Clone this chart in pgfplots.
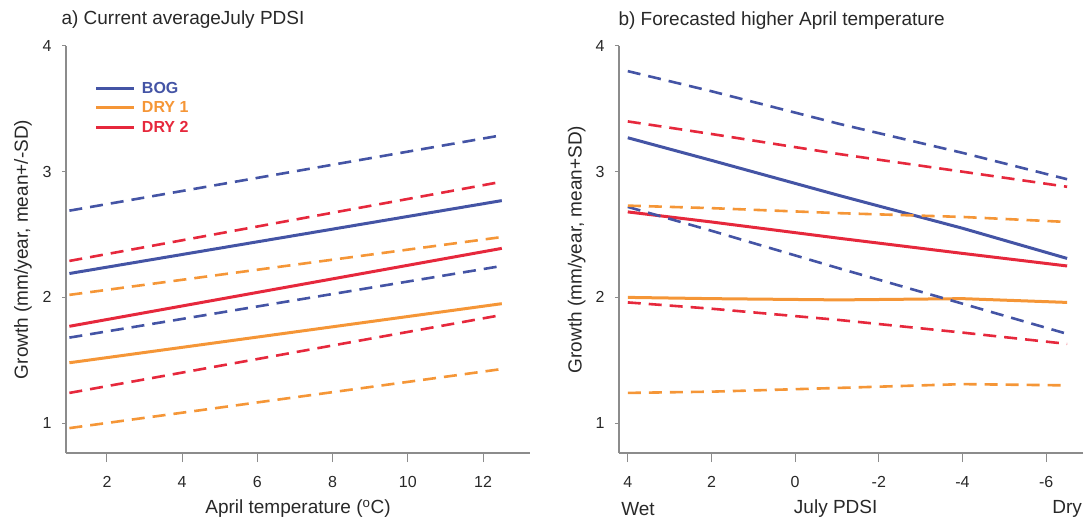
\documentclass[border=0pt]{standalone}
\usepackage{pgfplots}
\pgfplotsset{compat=1.18}
\usepackage{fontspec}
\setmainfont{Liberation Sans}
\definecolor{bogblue}{RGB}{68,84,165}
\definecolor{dryorange}{RGB}{245,150,55}
\definecolor{dryred}{RGB}{230,40,60}
\definecolor{axisgray}{RGB}{140,140,140}
\definecolor{txt}{RGB}{40,40,40}

\pgfplotstableread{
x    bm   bu   bl   om   ou   ol   rm   ru   rl
1    2.19 2.69 1.68 1.48 2.02 0.96 1.77 2.29 1.24
12.5 2.77 3.29 2.25 1.95 2.48 1.43 2.39 2.92 1.86
}\lefttab

\pgfplotstableread{
x     bm   bu   bl   om   ou   ol   rm   ru   rl
4     3.27 3.80 2.72 2.00 2.73 1.24 2.68 3.40 1.96
2     3.09 3.64 2.53 1.99 2.71 1.25 2.60 3.30 1.91
-1.06 2.81 3.38 2.23 1.98 2.67 1.28 2.47 3.14 1.82
-4    2.55 3.15 1.95 1.99 2.64 1.31 2.35 3.00 1.72
-6.5  2.31 2.94 1.71 1.96 2.60 1.30 2.25 2.88 1.63
}\righttab

\pgfplotsset{
  panel/.style={
    scale only axis, width=464pt, height=407pt,
    axis x line*=bottom, axis y line*=left,
    axis line style={draw=axisgray, line width=1.3pt, -},
    ymin=0.762, ymax=4,
    ytick={1,2,3,4},
    tick align=outside,
    major tick length=9pt,
    ytick style={/pgfplots/major tick length=4pt},
    tick style={draw=axisgray, line width=1pt},
    /pgf/number format/assume math mode=true,
    ticklabel style={font=\fontsize{16}{18}\selectfont, text=txt},
    xticklabel style={yshift=-11pt},
    yticklabel style={xshift=-2pt},
    clip=false,
  },
  solid line/.style={line width=3pt},
  dash line/.style={line width=2.6pt, dash pattern=on 13pt off 8pt},
}

\begin{document}
\begin{tikzpicture}
\path[use as bounding box] (0,0) rectangle (1088pt,520pt);

% ---------- panel a ----------
\begin{axis}[panel,
  at={(66pt,67pt)}, anchor=south west,
  xmin=0.91, xmax=13.25,
  xtick={2,4,6,8,10,12},
  legend style={at={(axis description cs:0.062,0.917)}, anchor=north west,
    draw=none, fill=none, inner sep=0pt,
    font=\bfseries\fontsize{16}{17}\selectfont, row sep=3pt,
    cells={anchor=west},
    /tikz/every odd column/.append style={column sep=4pt}},
  legend image code/.code={\draw[#1] (0pt,0pt) -- (38pt,0pt);},
]
\addplot[bogblue, solid line] table[x=x,y=bm]{\lefttab};
\addlegendentry{\textcolor{bogblue}{BOG}}
\addplot[dryorange, solid line] table[x=x,y=om]{\lefttab};
\addlegendentry{\textcolor{dryorange}{DRY 1}}
\addplot[dryred, solid line] table[x=x,y=rm]{\lefttab};
\addlegendentry{\textcolor{dryred}{DRY 2}}
\addplot[bogblue, dash line, forget plot] table[x=x,y=bu]{\lefttab};
\addplot[bogblue, dash line, forget plot] table[x=x,y=bl]{\lefttab};
\addplot[dryorange, dash line, forget plot] table[x=x,y=ou]{\lefttab};
\addplot[dryorange, dash line, forget plot] table[x=x,y=ol]{\lefttab};
\addplot[dryred, dash line, forget plot] table[x=x,y=ru]{\lefttab};
\addplot[dryred, dash line, forget plot] table[x=x,y=rl]{\lefttab};
\node[font=\fontsize{19}{21}\selectfont, text=txt] at (axis description cs:0.50,-0.137) {April temperature (\textsuperscript{o}C)};
\node[font=\fontsize{19}{21}\selectfont, text=txt, rotate=90] at (axis description cs:-0.093,0.5) {Growth (mm/year, mean+/-SD)};
\end{axis}

% ---------- panel b ----------
\begin{axis}[panel,
  at={(619pt,67pt)}, anchor=south west,
  x dir=reverse,
  xmin=-6.88, xmax=4.21,
  xtick={-6,-4,-2,0,2,4},
  xticklabels={-6,-4,-2,0,2,4},
]
\addplot[bogblue, solid line] table[x=x,y=bm]{\righttab};
\addplot[dryorange, solid line] table[x=x,y=om]{\righttab};
\addplot[dryred, solid line] table[x=x,y=rm]{\righttab};
\addplot[bogblue, dash line] table[x=x,y=bu]{\righttab};
\addplot[bogblue, dash line] table[x=x,y=bl]{\righttab};
\addplot[dryorange, dash line] table[x=x,y=ou]{\righttab};
\addplot[dryorange, dash line] table[x=x,y=ol]{\righttab};
\addplot[dryred, dash line] table[x=x,y=ru]{\righttab};
\addplot[dryred, dash line] table[x=x,y=rl]{\righttab};
\node[font=\fontsize{19}{21}\selectfont, text=txt] at (axis description cs:0.041,-0.137) {Wet};
\node[font=\fontsize{19}{21}\selectfont, text=txt] at (axis description cs:0.467,-0.137) {July PDSI};
\node[font=\fontsize{19}{21}\selectfont, text=txt] at (axis description cs:0.966,-0.137) {Dry};
\node[font=\fontsize{19}{21}\selectfont, text=txt, rotate=90] at (axis description cs:-0.091,0.5) {Growth (mm/year, mean+SD)};
\end{axis}

% titles
\node[anchor=west, font=\fontsize{19}{21}\selectfont, text=txt] at (58pt,500pt) {a) Current averageJuly PDSI};
\node[anchor=west, font=\fontsize{19}{21}\selectfont, text=txt] at (615pt,499pt) {b) Forecasted higher April temperature};
\end{tikzpicture}
\end{document}
